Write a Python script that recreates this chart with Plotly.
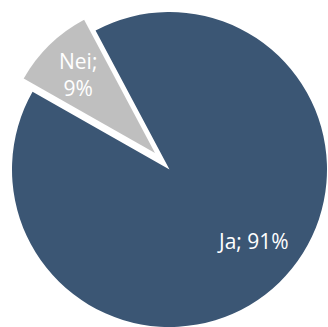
import plotly.graph_objects as go

# Survey answers (share of respondents, %)
labels = ["Ja", "Nei"]
values = [91, 9]
colors = ["#3B5674", "#BFBFBF"]
label_font = "Open Sans"

total = sum(values)
pct = [round(100 * v / total) for v in values]
texts = [f"{lab}; {p}%" for lab, p in zip(labels, pct)]

fig = go.Figure()

# Main slice ("Ja") in place
fig.add_trace(go.Pie(
    labels=labels,
    values=values,
    sort=False,
    direction="clockwise",
    rotation=-28,
    marker=dict(colors=[colors[0], "rgba(0,0,0,0)"], line=dict(width=0)),
    textinfo="none",
    hoverinfo="label+percent",
    domain=dict(x=[12 / 328, 327 / 328], y=[0, 1 - 12 / 327]),
    showlegend=False,
))

# Exploded slice ("Nei"), shifted towards the upper left
fig.add_trace(go.Pie(
    labels=labels,
    values=values,
    sort=False,
    direction="clockwise",
    rotation=-28,
    marker=dict(colors=["rgba(0,0,0,0)", colors[1]], line=dict(width=0)),
    textinfo="none",
    hoverinfo="label+percent",
    domain=dict(x=[4 / 328, 306 / 328], y=[1 - 304 / 327, 1 - 2 / 327]),
    showlegend=False,
))

# Slice labels
fig.add_annotation(x=253 / 328, y=1 - 241 / 327, xref="paper", yref="paper",
                   xanchor="center", yanchor="middle",
                   text=texts[0], showarrow=False,
                   font=dict(family=label_font, size=21, color="white"))
fig.add_annotation(x=78 / 328, y=1 - 75 / 327, xref="paper", yref="paper",
                   xanchor="center", yanchor="middle",
                   text=texts[1].replace(" ", "<br>"), showarrow=False,
                   font=dict(family=label_font, size=21, color="white"))

fig.update_layout(
    width=328,
    height=327,
    margin=dict(l=0, r=0, t=0, b=0),
    paper_bgcolor="white",
    plot_bgcolor="white",
)

fig.write_html("out.html")
